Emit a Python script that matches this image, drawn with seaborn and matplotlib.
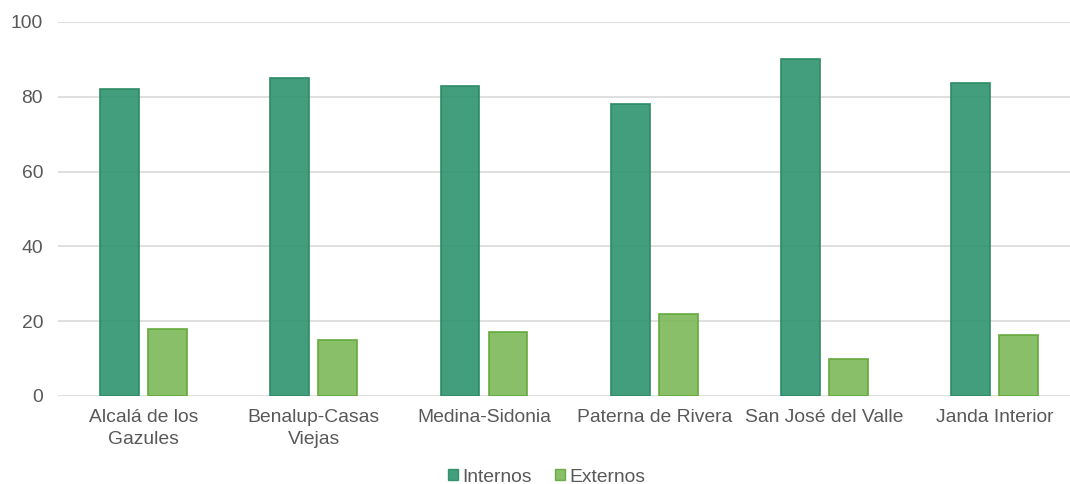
import matplotlib
matplotlib.use("Agg")
import matplotlib.pyplot as plt
import seaborn as sns
import pandas as pd
from matplotlib.patches import Patch

categories = ["Alcalá de los\nGazules", "Benalup-Casas\nViejas", "Medina-Sidonia",
              "Paterna de Rivera", "San José del Valle", "Janda Interior"]
internos = [82.2, 85.0, 83.0, 78.0, 90.2, 83.6]
externos = [17.8, 15.0, 17.0, 22.0, 9.8, 16.4]
series = ["Internos", "Externos"]
yticks = [0, 20, 40, 60, 80, 100]

df = pd.DataFrame({
    "cat": categories * 2,
    "serie": [series[0]] * len(categories) + [series[1]] * len(categories),
    "val": internos + externos,
})

sns.set_theme(style="white")
plt.rcParams["font.family"] = ["Liberation Sans", "DejaVu Sans"]

FS = 13.9
fig = plt.figure(figsize=(10.7, 4.84), dpi=100)
ax = fig.add_axes([58.4 / 1070, 88 / 484, 1021.5 / 1070, 374 / 484])

fills = {"Internos": "#2e9470", "Externos": "#7db85a"}
edges = {"Internos": "#2b8a63", "Externos": "#62a83a"}

sns.barplot(data=df, x="cat", y="val", hue="serie", palette=fills,
            width=0.564, gap=0.19, ax=ax, legend=False, alpha=0.9,
            saturation=1, linewidth=1.3)

for cont, s in zip(ax.containers, series):
    for p in cont:
        p.set_edgecolor(edges[s])
        p.set_zorder(3)

ax.set_ylim(0, 100)
ax.set_yticks(yticks)
ax.set_xlim(-0.5, len(categories) - 0.5)
for y in yticks:
    ax.axhline(y, color="#d9d9d9", lw=1.2, zorder=1)

for sp in ax.spines.values():
    sp.set_visible(False)
ax.tick_params(axis="both", length=0, labelsize=FS, colors="#595959")
ax.tick_params(axis="x", pad=9.5)
ax.tick_params(axis="y", pad=11)
for t in ax.get_xticklabels():
    t.set_linespacing(1.35)
ax.set_xlabel("")
ax.set_ylabel("")

handles = [Patch(facecolor=fills[s], edgecolor=edges[s], alpha=0.9, label=s) for s in series]
leg = fig.legend(handles=handles, loc="center", bbox_to_anchor=(546.5 / 1070, 1 - 477 / 484),
                 ncol=2, frameon=False, fontsize=FS, handlelength=0.55, handleheight=0.55,
                 handletextpad=0.2, columnspacing=1.2, borderpad=0)
for t in leg.get_texts():
    t.set_color("#595959")

fig.savefig("out.png", dpi=100)
